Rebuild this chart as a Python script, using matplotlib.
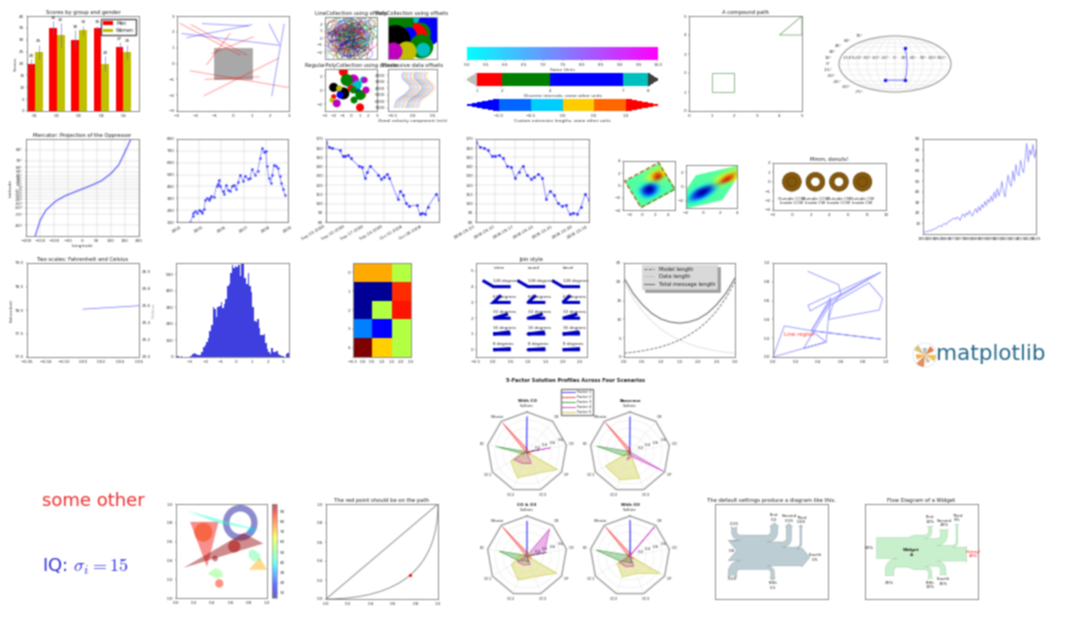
import numpy as np
import matplotlib
matplotlib.use('Agg')
import matplotlib as mpl
import matplotlib.pyplot as plt
from matplotlib.patches import Circle, Ellipse, Polygon, Rectangle, Wedge, PathPatch
from matplotlib.path import Path
from matplotlib.sankey import Sankey
from matplotlib.transforms import Affine2D
from matplotlib.colors import ListedColormap, BoundaryNorm, Normalize

W, H = 1080, 623

plt.rcParams.update({
    'font.size': 3, 'axes.linewidth': 0.7, 'axes.edgecolor': '#8c8c8c',
    'axes.titlesize': 3.8, 'axes.titlepad': 1.5, 'axes.labelsize': 3.2,
    'axes.labelpad': 1, 'axes.labelcolor': '#333333', 'text.color': '#222222',
    'xtick.labelsize': 3, 'ytick.labelsize': 3, 'xtick.major.size': 1,
    'ytick.major.size': 1, 'xtick.major.width': 0.3, 'ytick.major.width': 0.3,
    'xtick.major.pad': 1, 'ytick.major.pad': 1, 'xtick.color': '#333333',
    'ytick.color': '#333333', 'grid.linewidth': 0.3, 'grid.color': '#c8c8c8',
    'legend.fontsize': 3.2,
})

# bars
groups = ['G1', 'G2', 'G3', 'G4', 'G5']
men_means = [20, 35, 30, 35, 27]
women_means = [25, 32, 34, 20, 25]
men_std = [2, 3, 4, 1, 2]
women_std = [3, 5, 2, 3, 3]

# random lines over the grey square
red_segments = [[-2.82, 2.52, 0.37, 0.53], [-2.24, 2.45, 0.73, 0.53], [-1.40, -0.06, -0.16, 1.89],
    [-1.13, 0.63, 1.08, 1.68], [-2.29, -0.46, 2.95, -1.51], [-1.54, -2.03, 2.42, 0.32],
    [-1.49, -1.00, 1.40, -0.84]]
blue_segments = [[-2.73, 1.89, 2.50, 1.15], [-2.47, 1.64, 1.00, 2.45], [-1.63, 2.52, 0.82, 2.37],
    [1.94, 2.48, 2.47, 1.26], [2.74, 2.48, 2.08, -2.03]]

# collections
ring_x = [-1.8, -1.4, -1.0, -0.6, -0.2, 0.2, 0.6, 1.0, -1.6, -1.2, -0.8, -0.4, 0.0, 0.4, 0.8, 1.2, 1.6,
    -1.7, -1.1, -0.5, 0.1, 0.7, 1.3, -1.3, -0.7, -0.1, 0.5, 1.1, -0.9, -0.3, 0.3, 0.9, -1.5, 1.9, -0.2, 0.6]
ring_y = [1.5, 0.9, 1.8, 0.3, 1.2, 0.6, 1.6, 1.0, -0.4, -1.0, -0.2, -1.4, -0.6, 0.0, -1.1, -0.3, 0.4,
    0.2, 0.1, 0.9, 1.9, 0.2, 1.4, -1.7, -2.0, -1.2, -1.7, -1.5, 1.0, 0.0, 1.1, -0.8, -0.9, 1.6, -2.2, 0.5]
ring_r = [1.0, 0.7, 1.2, 0.9, 1.1, 0.8, 0.6, 1.3, 0.9, 0.7, 1.1, 0.8, 1.2, 1.0, 0.7, 0.9, 0.5,
    0.6, 1.0, 0.8, 0.7, 1.1, 0.6, 0.6, 0.7, 0.9, 0.8, 0.6, 1.0, 1.2, 0.9, 0.8, 0.7, 0.5, 0.6, 1.0]
ring_scales = [1.0, 1.45, 0.65, 1.2]
blob_x = [0.58, 0.82, 0.85, 0.65, 0.52, 0.18, 0.28, 0.42, 0.15, 0.68, 0.72, 0.38, 0.11]
blob_y = [0.84, 0.84, 0.57, 0.61, 0.53, 0.84, 0.88, 0.57, 0.45, 0.30, 0.22, 0.18, 0.18]
blob_r = [13, 10, 10, 11, 14, 14, 12, 8, 15, 12, 7, 10, 9]
blob_c = ['c', 'b', 'b', 'g', 'r', 'g', 'g', 'b', 'k', 'g', 'c', 'y', 'm']
dot_x = [-0.88, -2.0, 0.27, 1.42, 1.58, -0.12, -0.5, 0.65, 1.38, 0.73, -0.88, -1.27, -2.0, -1.38, 1.08, -2.2, 0.35, -1.65, 1.73, 0.0, 1.04, 0.27]
dot_y = [2.62, 0.38, 1.43, 1.43, 1.43, 0.71, 1.43, 0.0, -0.71, 0.71, -0.48, -0.71, -0.95, 0.24, -0.71, -1.43, -1.43, -1.9, -0.0, 0.24, -2.48, 0.0]
dot_r = [4.5, 4.5, 5.5, 3.5, 3, 3.5, 6, 3.5, 3.5, 4.5, 6, 3.5, 2.5, 3, 5, 2.5, 3.5, 4, 3.5, 3.5, 4, 3.5]
dot_c = ['r', 'k', 'm', 'c', 'm', 'c', 'g', 'b', 'y', 'c', 'k', 'b', 'r', 'y', 'g', 'y', 'g', 'm', 'm', 'r', 'r', 'g']
wave_speed = [-0.45, -0.42, -0.40, -0.32, -0.20, -0.12, -0.05, -0.08, -0.16, -0.24, -0.26, -0.22]
wave_depth = [7000, 6500, 6000, 5500, 5000, 4500, 4000, 3500, 3000, 2500, 2000, 1500]
wave_offset = [0.0, 0.05, 0.10, 0.15, 0.20, 0.25, 0.30, 0.35, 0.40, 0.45, 0.50, 0.55, 0.60]

# colorbars
cool_ticks = [5.0, 5.5, 6.0, 6.5, 7.0, 7.5, 8.0, 8.5, 9.0, 9.5, 10.0]
discrete_bounds = [1, 2, 4, 7, 8]
discrete_colors = ['r', 'g', 'b', 'c']
custom_bounds = [-1.0, -0.5, 0.0, 0.5, 1.0]
custom_colors = [(0, 0.4, 1), (0, 0.8, 1), (1, 0.8, 0), (1, 0.4, 0)]

# moll plot
moll_lon = [-0.675, 0.675, 0.675]
moll_lat = [-0.76, -0.76, 0.76]

# mercator
merc_lon = [-167.5, -150, -129.5, -95.6, -61.7, -21, 3.4, 33, 67, 101, 128, 148, 162, 171.5]
merc_lat = [-85, -76.3, -64.1, -45.3, -29.5, -13.6, -3.7, 8.6, 24, 46, 63.7, 77.5, 82.7, 85]

# prices
price_year = [2004.6, 2004.7, 2004.74, 2004.83, 2004.9, 2005.0, 2005.08, 2005.14, 2005.22, 2005.28, 2005.36, 2005.43,
    2005.5, 2005.55, 2005.66, 2005.78, 2005.84, 2005.88, 2005.95, 2006.05, 2006.12, 2006.22, 2006.3, 2006.4, 2006.48,
    2006.55, 2006.65, 2006.76, 2006.85, 2006.98, 2007.08, 2007.2, 2007.3, 2007.37, 2007.5, 2007.63, 2007.75, 2007.84,
    2007.92, 2008.0, 2008.05, 2008.14, 2008.22, 2008.3, 2008.36, 2008.45, 2008.53, 2008.62, 2008.7, 2008.78, 2008.85]
price_value = [100, 150, 176, 190, 180, 199, 190, 176, 210, 289, 300, 283, 300, 317, 310, 401, 420, 457, 400, 359, 340,
    415, 370, 359, 400, 415, 380, 440, 499, 443, 490, 463, 470, 547, 500, 530, 640, 724, 690, 700, 570, 470, 429, 500,
    584, 570, 556, 490, 429, 380, 331]
stock_dates = ['2008-09-03', '2008-09-04', '2008-09-05', '2008-09-08', '2008-09-09', '2008-09-10', '2008-09-11',
    '2008-09-12', '2008-09-15', '2008-09-16', '2008-09-17', '2008-09-18', '2008-09-19', '2008-09-22', '2008-09-23',
    '2008-09-24', '2008-09-25', '2008-09-26', '2008-09-29', '2008-09-30', '2008-10-01', '2008-10-02', '2008-10-03',
    '2008-10-06', '2008-10-07', '2008-10-08', '2008-10-09', '2008-10-10', '2008-10-13', '2008-10-14']
stock_close = [166.96, 161.22, 160.18, 157.92, 151.68, 151.61, 152.65, 148.94, 140.36, 139.88, 127.83, 134.09, 140.91,
    131.05, 126.84, 128.71, 131.93, 128.24, 105.26, 113.66, 109.12, 100.10, 97.07, 98.14, 89.16, 89.79, 88.74, 96.80, 110.26, 104.08]
week_ticks = ['2008-09-03', '2008-09-10', '2008-09-17', '2008-09-24', '2008-10-01', '2008-10-08']
week_labels = ['Sep 03 2008', 'Sep 10 2008', 'Sep 17 2008', 'Sep 24 2008', 'Oct 01 2008', 'Oct 08 2008']
iso_ticks = [0, 5, 10, 15, 20, 25, 29]
iso_labels = ['2008-09-03', '2008-09-10', '2008-09-17', '2008-09-24', '2008-10-01', '2008-10-08', '2008-10-14']

# coarse image for the two transformed panels
field = [[0, 0, 0, 0, 0.02, 0.05, 0.08, 0.08, 0.05],
    [0, 0, 0, 0.02, 0.1, 0.2, 0.3, 0.3, 0.2],
    [0, 0, 0, 0.02, 0.15, 0.4, 0.8, 0.9, 0.4],
    [0, -0.02, -0.08, -0.2, -0.05, 0.35, 1.05, 1.15, 0.45],
    [0, -0.15, -0.6, -0.95, -0.8, -0.2, 0.15, 0.2, 0.1],
    [0, -0.15, -0.7, -1.0, -1.0, -0.5, 0, 0.02, 0],
    [0, -0.08, -0.45, -0.8, -0.65, -0.25, 0, 0, 0],
    [0, 0, -0.1, -0.2, -0.18, -0.05, 0, 0, 0],
    [0, 0, 0, 0, 0, 0, 0, 0, 0]]

# donuts
donut_x = [0, 2.5, 5, 7.5]
donut_hole = [False, True, True, False]
donut_labels = ['Outside CCW\nInside CCW', 'Outside CCW\nInside CW', 'Outside CW\nInside CCW', 'Outside CW\nInside CW']

# rising line
rising = [1, 2, 2, 2.5, 3, 3, 4, 4.5, 5, 6, 7, 8, 7, 9, 10, 9, 11, 12, 13, 14, 15, 14, 16, 15, 13, 17, 19, 16, 20, 18,
    22, 19, 17, 21, 24, 20, 26, 22, 28, 25, 31, 27, 33, 30, 36, 31, 40, 34, 43, 36, 41, 50, 40, 35, 46, 56, 48, 45, 60,
    50, 66, 58, 55, 70, 62, 58, 72, 86, 68, 80, 75, 85, 72, 80]
rising_labels = ['1950', '1955', '1960', '1965', '1970', '1975', '1980', '1985', '1990', '1995', '2000', '2005',
    '2010', '2015', '2020', '2025']

# histogram
hist_heights = [8, 8, 0, 8, 0, 0, 0, 0, 0, 8, 20, 25, 20, 12, 12, 15, 30, 60, 70, 90, 115, 160, 195, 300, 290, 240, 300, 310,
    330, 295, 320, 350, 430, 440, 510, 555, 540, 550, 545, 555, 490, 570, 570, 480, 440, 505, 430, 395, 300, 220, 210, 230,
    175, 130, 130, 140, 85, 50, 30, 20, 55, 30, 30, 35, 20, 15, 5, 5, 0, 20, 25]

# jet cells
jet_cells = [[0.73, 0.73, 0.57], [0.02, 0.02, 0.86], [0.02, 0.57, 0.89], [0.25, 0.11, 0.57], [1.0, 0.69, 0.57]]

# join styles
join_names = ['mitre', 'round', 'bevel']
join_styles = ['miter', 'round', 'bevel']
join_angles = [8, 16, 32, 64, 128]

# model selection
model_x = [0, 0.25, 0.5, 0.75, 1, 1.25, 1.5, 1.75, 2, 2.25, 2.5, 2.75, 3]
model_len = [1, 1.28, 1.65, 2.1, 2.7, 3.5, 4.5, 5.8, 7.4, 9.5, 12.2, 15.6, 20]
data_len = [20, 15.6, 12.2, 9.5, 7.4, 5.8, 4.5, 3.5, 2.7, 2.1, 1.65, 1.28, 1]
total_len = [21, 16.9, 13.9, 11.6, 10.1, 9.3, 9.0, 9.3, 10.1, 11.6, 13.9, 16.9, 21]

# scribble
walk_x = [0.31, 0.58, 0.60, 0.53, 0.49, 0.94, 0.97, 0.85, 0.50, 0.27, 0.47, 0.49, 0.51, 0.34, 0.10, 0, 0.47, 0.34, 0.95, 0.34, 0.50, 0.95, 0.33, 0.31, 0.95]
walk_y = [0.91, 0.77, 0.67, 0.56, 0.40, 0.50, 0.62, 0.79, 0.55, 0.09, 0.16, 0.40, 0.63, 0.28, 0.33, 0, 0.16, 0.28, 0.19, 0.28, 0.58, 0.90, 0.49, 0.55, 0.90]

# patches panel
circle_patches = [(0.30, 0.70, 0.10, 78), (0.64, 0.55, 0.067, 92), (0.475, 0.155, 0.045, 85), (0.43, 0.42, 0.03, 95)]
poly_patches = [([0.155, 0.467, 0.34], [0.81, 0.81, 0.33], 88),
    ([0.12, 0.96, 0.45], [0.93, 0.71, 0.80], 42),
    ([0.08, 0.96, 0.74], [0.32, 0.58, 0.69], 95),
    ([0.80, 1.0, 0.92], [0.30, 0.30, 0.43], 72),
    ([0.80, 0.84, 0.92, 0.93, 0.85, 0.80], [0.50, 0.52, 0.47, 0.40, 0.39, 0.44], 48),
    ([0.36, 0.44, 0.50, 0.52, 0.44, 0.36], [0.27, 0.32, 0.29, 0.23, 0.21, 0.25], 52),
    ([0.78, 0.85, 0.86, 0.80], [0.72, 0.77, 0.71, 0.69], 35)]
colorbar_ticks = [10, 20, 30, 40, 50, 60, 70, 80, 90]

# radar
spoke_labels = ['Sulfate', 'Nitrate', 'EC', 'OC1', 'OC2', 'OC3', 'OP', 'CO', 'O3']
factor_labels = ['Factor 1', 'Factor 2', 'Factor 3', 'Factor 4', 'Factor 5']
factor_colors = ['b', 'r', 'g', 'm', 'y']
radar_titles = ['With CO', 'Basecase', 'CO & O3', 'With O3']
with_co = [[0.88, 0.02, 0.02, 0.02, 0.00, 0.05, 0.00, 0.05, 0.00], [0.08, 0.94, 0.04, 0.02, 0.00, 0.01, 0.12, 0.04, 0.00],
    [0.01, 0.01, 0.79, 0.10, 0.00, 0.05, 0.00, 0.31, 0.00], [0.00, 0.02, 0.03, 0.38, 0.31, 0.31, 0.00, 0.59, 0.00],
    [0.02, 0.02, 0.11, 0.47, 0.69, 0.58, 0.88, 0.00, 0.00]]
basecase = [[0.88, 0.01, 0.03, 0.03, 0.00, 0.06, 0.01, 0.00, 0.00], [0.07, 0.95, 0.04, 0.05, 0.00, 0.02, 0.01, 0.00, 0.00],
    [0.01, 0.02, 0.85, 0.19, 0.05, 0.10, 0.00, 0.00, 0.00], [0.02, 0.01, 0.07, 0.01, 0.21, 0.12, 0.98, 0.00, 0.00],
    [0.01, 0.01, 0.02, 0.71, 0.74, 0.70, 0.00, 0.00, 0.00]]
co_o3 = [[0.87, 0.01, 0.08, 0.00, 0.00, 0.04, 0.00, 0.00, 0.01], [0.09, 0.95, 0.02, 0.03, 0.00, 0.01, 0.13, 0.06, 0.00],
    [0.01, 0.02, 0.71, 0.24, 0.13, 0.16, 0.00, 0.50, 0.00], [0.01, 0.03, 0.00, 0.28, 0.24, 0.23, 0.00, 0.44, 0.88],
    [0.02, 0.00, 0.18, 0.45, 0.64, 0.55, 0.86, 0.00, 0.16]]
with_o3 = [[0.89, 0.01, 0.07, 0.00, 0.00, 0.05, 0.00, 0.00, 0.03], [0.07, 0.95, 0.05, 0.04, 0.00, 0.02, 0.12, 0.00, 0.00],
    [0.01, 0.02, 0.86, 0.27, 0.16, 0.19, 0.00, 0.00, 0.00], [0.01, 0.03, 0.00, 0.32, 0.29, 0.27, 0.00, 0.00, 0.95],
    [0.02, 0.00, 0.03, 0.37, 0.56, 0.47, 0.87, 0.00, 0.00]]

# sankey
plain_flows = [0.25, 0.15, 0.60, -0.20, -0.15, -0.05, -0.50, -0.10]
plain_labels = ['', '', '', 'First', 'Second', 'Third', 'Fourth', 'Fifth']
plain_orient = [-1, 1, 0, 1, 1, 1, 0, -1]
widget_flows = [25, 0, 60, -10, -20, -5, -15, -10, -40]
widget_labels = ['', '', '', 'First', 'Second', 'Third', 'Fourth', 'Fifth', 'Hurray!']
widget_orient = [-1, 1, 0, 1, 1, 1, -1, -1, 0]
widget_paths = [0.25, 0.25, 0.25, 0.25, 0.25, 0.6, 0.25, 0.25, 0.25]

# logo wedges
logo_angles = [0, 50, 95, 150, 205, 250, 300]
logo_spans = [35, 30, 40, 35, 30, 35, 35]
logo_radii = [11, 8, 12, 9, 12, 7, 10]
logo_colors = ['#f0c060', '#c8c0a0', '#e09060', '#f0b040', '#d8c080', '#a0b8c0', '#e08050']

fig = plt.figure(figsize = (W/100, H/100), dpi = 100)


def ax_px(l, t, r, b, **kw):
    return fig.add_axes([l/W, 1 - b/H, (r - l)/W, (b - t)/H], **kw)


def dot_size(r):
    return (1.44*r)**2


def draw_bars():
    ax = ax_px(27, 16, 139, 111)
    ind = np.arange(len(groups))
    width = 0.35
    ebar = dict(ecolor = '#6060c0', elinewidth = 0.4)
    b1 = ax.bar(ind, men_means, width, color = 'r', yerr = men_std, error_kw = ebar, align = 'edge', label = 'Men')
    b2 = ax.bar(ind + width, women_means, width, color = '#c0c000', yerr = women_std, error_kw = ebar, align = 'edge', label = 'Women')
    for bars, errs in ((b1, men_std), (b2, women_std)):
        for rect, e in zip(bars, errs):
            h = rect.get_height()
            ax.text(rect.get_x() + width/2, h + e + 0.5, '%d' % h, ha = 'center', va = 'bottom', fontsize = 3)
    ax.set_xlim(0, 5.05)
    ax.set_ylim(0, 40)
    ax.set_xticks(ind + width)
    ax.set_xticklabels(groups)
    ax.set_ylabel('Scores')
    ax.set_title('Scores by group and gender')
    ax.legend(loc = 'upper right', fontsize = 3.4, fancybox = False, borderaxespad = 0.6, edgecolor = '#555555', framealpha = 1)


def draw_segments():
    ax = ax_px(177, 16, 289, 111)
    ax.add_patch(Rectangle((-1, -1), 2, 2, fc = '#a8a8a8', ec = '#b0a0a0', lw = 0.5))
    for x0, y0, x1, y1 in red_segments:
        ax.plot([x0, x1], [y0, y1], color = 'r', lw = 0.7, alpha = 0.38)
    for x0, y0, x1, y1 in blue_segments:
        ax.plot([x0, x1], [y0, y1], color = 'b', lw = 0.7, alpha = 0.38)
    ax.set_xlim(-3, 3)
    ax.set_ylim(-3, 3)


def draw_collections():
    colors = 'bgrcmyk'
    ax = ax_px(325, 17, 377, 59)
    n = 0
    for scale in ring_scales:
        for x, y, r in zip(ring_x, ring_y, ring_r):
            ax.add_patch(Ellipse((x*scale, y*scale), 2*r*scale, 2*r*scale, fc = 'none', ec = colors[n % 7], lw = 0.3, alpha = 0.8))
            n += 1
    ax.set_xlim(-3, 3)
    ax.set_ylim(-3, 3)
    ax.set_xticks([])
    ax.set_yticks([-2, -1, 0, 1, 2])
    ax.set_title('LineCollection using offsets')

    ax = ax_px(388, 17, 437, 59)
    ax.scatter(blob_x, blob_y, s = [dot_size(r) for r in blob_r], c = blob_c, linewidths = 0)
    ax.set_xlim(0, 1)
    ax.set_ylim(0, 1)
    ax.set_xticks([])
    ax.set_yticks([])
    ax.set_title('PolyCollection using offsets')

    ax = ax_px(325, 69, 377, 111)
    ax.scatter(dot_x, dot_y, s = [dot_size(r) for r in dot_r], c = dot_c, linewidths = 0)
    ax.set_xlim(-3, 3)
    ax.set_ylim(-3, 3)
    ax.set_xticks(range(-3, 4))
    ax.set_title('RegularPolyCollection using offsets')

    ax = ax_px(388, 69, 437, 111)
    for i, off in enumerate(wave_offset):
        ax.plot(np.array(wave_speed) + off, wave_depth, color = colors[i % 7], lw = 0.4, alpha = 0.6)
    ax.set_xlim(-0.6, 0.6)
    ax.set_ylim(7500, 1000)
    ax.set_yticks([2000, 3000, 4000, 5000, 6000, 7000])
    ax.set_xlabel('Zonal velocity component (m/s)')
    ax.set_title('Successive data offsets')


def draw_colorbars():
    ax = ax_px(467, 47, 658, 60)
    sm = mpl.cm.ScalarMappable(cmap = 'cool', norm = Normalize(5, 10))
    cb = fig.colorbar(sm, cax = ax, orientation = 'horizontal', ticks = cool_ticks)
    cb.set_label('Some Units')
    cb.outline.set_linewidth(0)

    ax = ax_px(467, 73, 658, 86)
    cmap = ListedColormap(discrete_colors)
    cmap.set_under('0.75')
    cmap.set_over('0.25')
    sm = mpl.cm.ScalarMappable(cmap = cmap, norm = BoundaryNorm(discrete_bounds, 4))
    cb = fig.colorbar(sm, cax = ax, orientation = 'horizontal', extend = 'both', ticks = discrete_bounds,
        spacing = 'proportional', extendfrac = 0.06)
    cb.set_label('Discrete intervals, some other units')
    cb.outline.set_linewidth(0)

    ax = ax_px(467, 99, 658, 111)
    cmap = ListedColormap(custom_colors)
    cmap.set_under('b')
    cmap.set_over('r')
    sm = mpl.cm.ScalarMappable(cmap = cmap, norm = BoundaryNorm(custom_bounds, 4))
    cb = fig.colorbar(sm, cax = ax, orientation = 'horizontal', extend = 'both', ticks = custom_bounds,
        spacing = 'uniform', extendfrac = 0.25)
    cb.set_label('Custom extension lengths, some other units')
    cb.outline.set_linewidth(0)


def draw_compound():
    ax = ax_px(689, 16, 802, 111)
    ax.add_patch(Rectangle((1, 1), 1, 1, fc = 'none', ec = '#60a060', lw = 0.5))
    ax.add_patch(Polygon([(4, 4), (5, 5), (5, 4)], fc = 'none', ec = '#60a060', lw = 0.5))
    ax.set_xlim(0, 5)
    ax.set_ylim(0, 5)
    ax.set_title('A compound path')


def draw_moll():
    ax = ax_px(839, 35, 951, 93, projection = 'mollweide')
    ax.plot(moll_lon, moll_lat, 'o-', color = 'b', lw = 0.5, ms = 1.6, alpha = 0.8)
    ax.grid(True, color = '#dddddd')
    ax.tick_params(labelsize = 3)


def draw_mercator():
    def fwd(lat):
        return np.arcsinh(np.tan(np.radians(np.clip(lat, -89.5, 89.5))))

    def inv(m):
        return np.degrees(np.arctan(np.sinh(m)))

    ax = ax_px(26, 139, 139, 236)
    ax.plot(merc_lon, merc_lat, color = 'b', lw = 0.9, alpha = 0.6)
    ax.set_yscale('function', functions = (fwd, inv))
    ax.set_xlim(-200, 200)
    ax.set_ylim(-85, 85)
    ax.set_xticks(range(-200, 201, 50))
    ax.set_yticks(range(-80, 81, 10))
    ax.set_yticklabels(['%d\N{DEGREE SIGN}' % v for v in range(-80, 81, 10)])
    ax.minorticks_off()
    ax.grid(True)
    ax.set_xlabel('Longitude')
    ax.set_ylabel('Latitude')
    ax.set_title('Mercator: Projection of the Oppressor')


def draw_prices():
    ax = ax_px(177, 139, 288, 222)
    ax.plot(price_year, price_value, '-o', color = 'b', lw = 0.55, ms = 1, alpha = 0.5)
    ax.set_xlim(2004, 2009)
    ax.set_ylim(100, 800)
    ax.set_xticks(range(2004, 2010))
    ax.tick_params(axis = 'x', labelrotation = 30)
    ax.grid(True)

    days = np.array(stock_dates, dtype = 'datetime64[D]')
    ax = ax_px(326, 139, 439, 222)
    ax.plot(days, stock_close, '-o', color = 'b', lw = 0.55, ms = 1.2, alpha = 0.55)
    ax.set_xlim(days[0], days[-1])
    ax.set_ylim(80, 170)
    ax.set_xticks(np.array(week_ticks, dtype = 'datetime64[D]'))
    ax.set_xticklabels(week_labels, rotation = 30, ha = 'right')
    ax.grid(True)

    ax = ax_px(476, 139, 589, 222)
    ax.plot(range(len(stock_close)), stock_close, '-o', color = 'b', lw = 0.55, ms = 1.2, alpha = 0.55)
    ax.set_xlim(0, len(stock_close) - 1)
    ax.set_ylim(80, 170)
    ax.set_xticks(iso_ticks)
    ax.set_xticklabels(iso_labels, rotation = 30, ha = 'right')
    ax.grid(True)


def draw_transformed():
    extent = [-2, 4, -3, 2]
    ax = ax_px(623, 161, 675, 210)
    im = ax.imshow(field, cmap = 'jet', vmin = -1, vmax = 1.22, interpolation = 'bicubic', extent = extent)
    trans = Affine2D().rotate_deg(30) + ax.transData
    im.set_transform(trans)
    ax.plot([-2, 4, 4, -2, -2], [-3, -3, 2, 2, -3], '--', color = '#a06010', lw = 0.9, transform = trans)
    ax.set_xlim(-3, 5)
    ax.set_ylim(-4, 4)
    ax.set_aspect('auto')

    ax = ax_px(686, 165, 737, 208)
    im = ax.imshow(field, cmap = 'jet', vmin = -1, vmax = 1.22, interpolation = 'bicubic', extent = extent)
    im.set_transform(Affine2D().skew_deg(30, 15) + ax.transData)
    ax.set_xlim(-2, 4)
    ax.set_ylim(-3, 3)
    ax.set_aspect('auto')


def draw_donuts():
    ax = ax_px(773, 163, 886, 210)
    for x, hole, label in zip(donut_x, donut_hole, donut_labels):
        if hole:
            ax.add_patch(Wedge((x, 0), 1, 0, 360, width = 0.5, fc = '#86590c', ec = '#5a3a08', lw = 0.4))
        else:
            ax.add_patch(Circle((x, 0), 1, fc = '#86590c', ec = '#5a3a08', lw = 0.4))
            ax.add_patch(Circle((x, 0), 0.5, fc = 'none', ec = '#5a3a08', lw = 0.4))
        ax.text(x, -2.05, label, ha = 'center', va = 'center', fontsize = 3)
    ax.set_xlim(-2, 10)
    ax.set_ylim(-3, 2)
    ax.set_title('Mmm, donuts!')


def draw_rising():
    ax = ax_px(923, 139, 1036, 234)
    ax.plot(rising, color = 'b', lw = 0.5, alpha = 0.5)
    ax.set_xlim(0, len(rising) - 1)
    ax.set_ylim(0, 90)
    ax.set_yticks(range(10, 91, 10))
    ax.set_xticks(np.linspace(0, len(rising) - 1, len(rising_labels)))
    ax.set_xticklabels(rising_labels)


def draw_two_scales():
    ax = ax_px(27, 263, 139, 357)
    ax.set_xlim(-0.06, 0.06)
    ax.set_ylim(77, 79)
    ax.set_yticks([77.0, 77.5, 78.0, 78.5, 79.0])
    ax.set_xticks([-0.06, -0.04, -0.02, 0, 0.02, 0.04, 0.06])
    ax.set_ylabel('Fahrenheit')
    ax.set_title('Two scales: Fahrenheit and Celsius')
    ax2 = ax.twinx()
    ax2.plot([0, 0.06], [25.56, 25.6], color = 'b', lw = 0.5, alpha = 0.6)
    ax2.set_ylim(25.0, 26.1)
    ax2.set_yticks([25.0, 25.2, 25.4, 25.6, 25.8, 26.0])
    ax2.set_ylabel('Celsius', labelpad = 0.5)
    ax2.yaxis.label.set_alpha(0.5)


def draw_hist():
    ax = ax_px(176, 263, 289, 357)
    edges = np.linspace(-3.9, 3.38, len(hist_heights) + 1)
    ax.bar(edges[:-1], hist_heights, np.diff(edges), align = 'edge', color = '#3f3fe0', lw = 0)
    ax.set_xlim(-3.9, 3.38)
    ax.set_ylim(0, 568)
    ax.set_xticks([-3, -2, -1, 0, 1, 2, 3])
    ax.set_yticks([0, 100, 200, 300, 400, 500])


def draw_jet():
    ax = ax_px(353, 263, 411, 357)
    ax.imshow(jet_cells, cmap = 'jet', vmin = 0, vmax = 1, aspect = 'auto', interpolation = 'nearest')
    ax.set_xticks([-0.5, 0, 0.5, 1, 1.5, 2, 2.5])
    ax.set_yticks(range(5))


def draw_joins():
    ax = ax_px(476, 263, 587, 357)
    for x, (name, style) in enumerate(zip(join_names, join_styles)):
        ax.text(x, 5.1, name, fontsize = 3, ha = 'left')
        for y, deg in enumerate(join_angles):
            phi = np.radians(deg)
            ax.plot([x + 0.5, x, x + np.cos(phi)*0.5], [y, y, y + np.sin(phi)*0.5],
                color = '#0000c0', lw = 2.2, solid_joinstyle = style, solid_capstyle = 'butt')
            ax.text(x, y + 0.3, '%d degrees' % deg, fontsize = 3, ha = 'left')
    ax.set_xlim(-0.5, 2.7)
    ax.set_ylim(-0.46, 5.5)
    ax.set_xticks([-0.5, 0, 0.5, 1, 1.5, 2, 2.5])
    ax.set_yticks(range(6))
    ax.set_title('Join style')


def draw_model():
    ax = ax_px(624, 263, 735, 357)
    ax.plot(model_x, model_len, 'k--', lw = 0.6, alpha = 0.6, label = 'Model length')
    ax.plot(model_x, data_len, 'k:', lw = 0.5, alpha = 0.4, label = 'Data length')
    ax.plot(model_x, total_len, color = '#707070', lw = 0.8, label = 'Total message length')
    ax.set_xlim(0, 3)
    ax.set_ylim(0, 25)
    leg = ax.legend(loc = 'upper center', fontsize = 3.8, shadow = True, fancybox = False, borderaxespad = 0.3, framealpha = 1)
    leg.get_frame().set_facecolor('0.85')
    leg.get_frame().set_linewidth(0.4)


def draw_walk():
    ax = ax_px(773, 263, 886, 357)
    ax.plot(walk_x, walk_y, color = 'b', lw = 0.7, alpha = 0.38)
    ax.text(0.1, 0.24, 'Line region', color = 'r', fontsize = 4, va = 'center', alpha = 0.8)
    ax.set_xlim(0, 1)
    ax.set_ylim(0, 1)


def draw_patches():
    ax = ax_px(176, 504, 267, 598)
    norm = Normalize(5, 97)
    cmap = plt.get_cmap('jet')
    ax.add_patch(Wedge((0.706, 0.80), 0.19, 0, 360, width = 0.07, fc = cmap(norm(7)), alpha = 0.45, lw = 0))
    for x, y, r, v in circle_patches:
        ax.add_patch(Circle((x, y), r, fc = cmap(norm(v)), alpha = 0.5, lw = 0))
    for xs, ys, v in poly_patches:
        ax.add_patch(Polygon(list(zip(xs, ys)), fc = cmap(norm(v)), alpha = 0.45, lw = 0))
    ax.set_xlim(0, 1)
    ax.set_ylim(0, 1)
    cax = ax_px(272, 504, 277, 598)
    cb = fig.colorbar(mpl.cm.ScalarMappable(cmap = cmap, norm = norm), cax = cax, ticks = colorbar_ticks, alpha = 0.6)
    cb.outline.set_linewidth(0.4)


def draw_bezier():
    ax = ax_px(326, 504, 438, 599)
    path = Path([(0, 0), (1, 0), (1, 1), (0, 0)], [Path.MOVETO, Path.CURVE3, Path.CURVE3, Path.CLOSEPOLY])
    ax.add_patch(PathPatch(path, fc = 'none', ec = '#909090', lw = 0.7))
    ax.plot([0.75], [0.25], 'ro', ms = 1.2)
    ax.set_xlim(0, 1)
    ax.set_ylim(0, 1)
    ax.set_title('The red point should be on the path')


def draw_radar():
    theta = np.linspace(0, 2*np.pi, len(spoke_labels), endpoint = False)
    closed = np.append(theta, theta[0])
    boxes = [(487, 412, 567, 492), (590, 412, 670, 492), (487, 516, 567, 596), (590, 516, 670, 596)]
    for box, title, table in zip(boxes, radar_titles, [with_co, basecase, co_o3, with_o3]):
        ax = ax_px(*box, projection = 'polar')
        ax.set_theta_zero_location('N')
        ax.spines['polar'].set_visible(False)
        for row, color in zip(table, factor_colors):
            vals = np.append(row, row[0])
            ax.plot(closed, vals, color = color, lw = 0.45, alpha = 0.7)
            ax.fill(closed, vals, color = color, alpha = 0.3, lw = 0)
        ax.plot(closed, np.ones(len(closed)), color = '#a0a0a0', lw = 1, clip_on = False)
        ax.set_thetagrids(np.degrees(theta), spoke_labels, fontsize = 2.8)
        ax.set_rgrids([0.2, 0.4, 0.6, 0.8], fontsize = 2.8)
        ax.set_rlabel_position(-72)
        ax.set_ylim(0, 1)
        ax.tick_params(axis = 'x', pad = -4)
        ax.grid(True, color = '#e0e0e0', lw = 0.25)
        ax.text(0.5, 1.125, title, transform = ax.transAxes, ha = 'center', fontsize = 3, weight = 'bold')
    fig.text(576/W, 1 - 381/H, '5-Factor Solution Profiles Across Four Scenarios', ha = 'center', va = 'center', fontsize = 3.7, weight = 'bold')
    handles = [plt.Line2D([], [], color = c, lw = 0.5) for c in factor_colors]
    fig.legend(handles, factor_labels, loc = 'center', bbox_to_anchor = (577/W, 1 - 402/H), fontsize = 2.5,
        fancybox = False, edgecolor = '#808080', framealpha = 1, labelspacing = 0.3, handlelength = 3.5, borderpad = 0.4)


def draw_sankey():
    ax = ax_px(715, 504, 828, 599, xticks = [], yticks = [])
    ax.set_title('The default settings produce a diagram like this.')
    Sankey(ax = ax, flows = plain_flows, labels = plain_labels, orientations = plain_orient,
        facecolor = '#bccdd3', edgecolor = '#90a0a8', lw = 0.3).finish()

    ax = ax_px(865, 504, 978, 599, xticks = [], yticks = [])
    ax.set_title('Flow Diagram of a Widget')
    s = Sankey(ax = ax, scale = 0.01, offset = 0.2, head_angle = 180, format = '%.0f', unit = '%')
    s.add(flows = widget_flows, labels = widget_labels, orientations = widget_orient, pathlengths = widget_paths,
        patchlabel = 'Widget\nA', facecolor = '#c8f0cc', edgecolor = '#a0d0a8', lw = 0.3)
    diagrams = s.finish()
    diagrams[0].texts[-1].set_color('r')
    diagrams[0].text.set_fontweight('bold')


def draw_loose_text():
    ax = fig.add_axes([0, 0, 1, 1], zorder = 10)
    ax.set_xlim(0, W)
    ax.set_ylim(H, 0)
    ax.axis('off')
    ax.text(42, 501, 'some other', color = '#f03030', fontsize = 13, va = 'center')
    ax.text(42, 567, r'IQ: $\sigma_i=15$', color = '#3030e0', fontsize = 13, va = 'center', math_fontfamily = 'cm')
    ax.text(936, 354, 'matplotlib', color = '#2a6a8c', fontsize = 15.5, va = 'center')
    ax.add_patch(Circle((925, 355), 12, fc = 'none', ec = '#d8e4e8', lw = 0.5))
    for a, s, r, c in zip(logo_angles, logo_spans, logo_radii, logo_colors):
        ax.add_patch(Wedge((925, 355), r, a, a + s, fc = c, lw = 0))


def soften(name):
    # the source picture is a scaled up screenshot, so take the edge off
    img = plt.imread(name)[:, :, :3]
    kernel = np.array([0.25, 0.5, 0.25])
    for axis in (0, 1):
        img = sum(k*np.roll(img, i - 1, axis = axis) for i, k in enumerate(kernel))
    plt.imsave(name, np.clip(img, 0, 1))


draw_bars()
draw_segments()
draw_collections()
draw_colorbars()
draw_compound()
draw_moll()
draw_mercator()
draw_prices()
draw_transformed()
draw_donuts()
draw_rising()
draw_two_scales()
draw_hist()
draw_jet()
draw_joins()
draw_model()
draw_walk()
draw_patches()
draw_bezier()
draw_radar()
draw_sankey()
draw_loose_text()

fig.savefig('out.png', dpi = 100)
soften('out.png')
